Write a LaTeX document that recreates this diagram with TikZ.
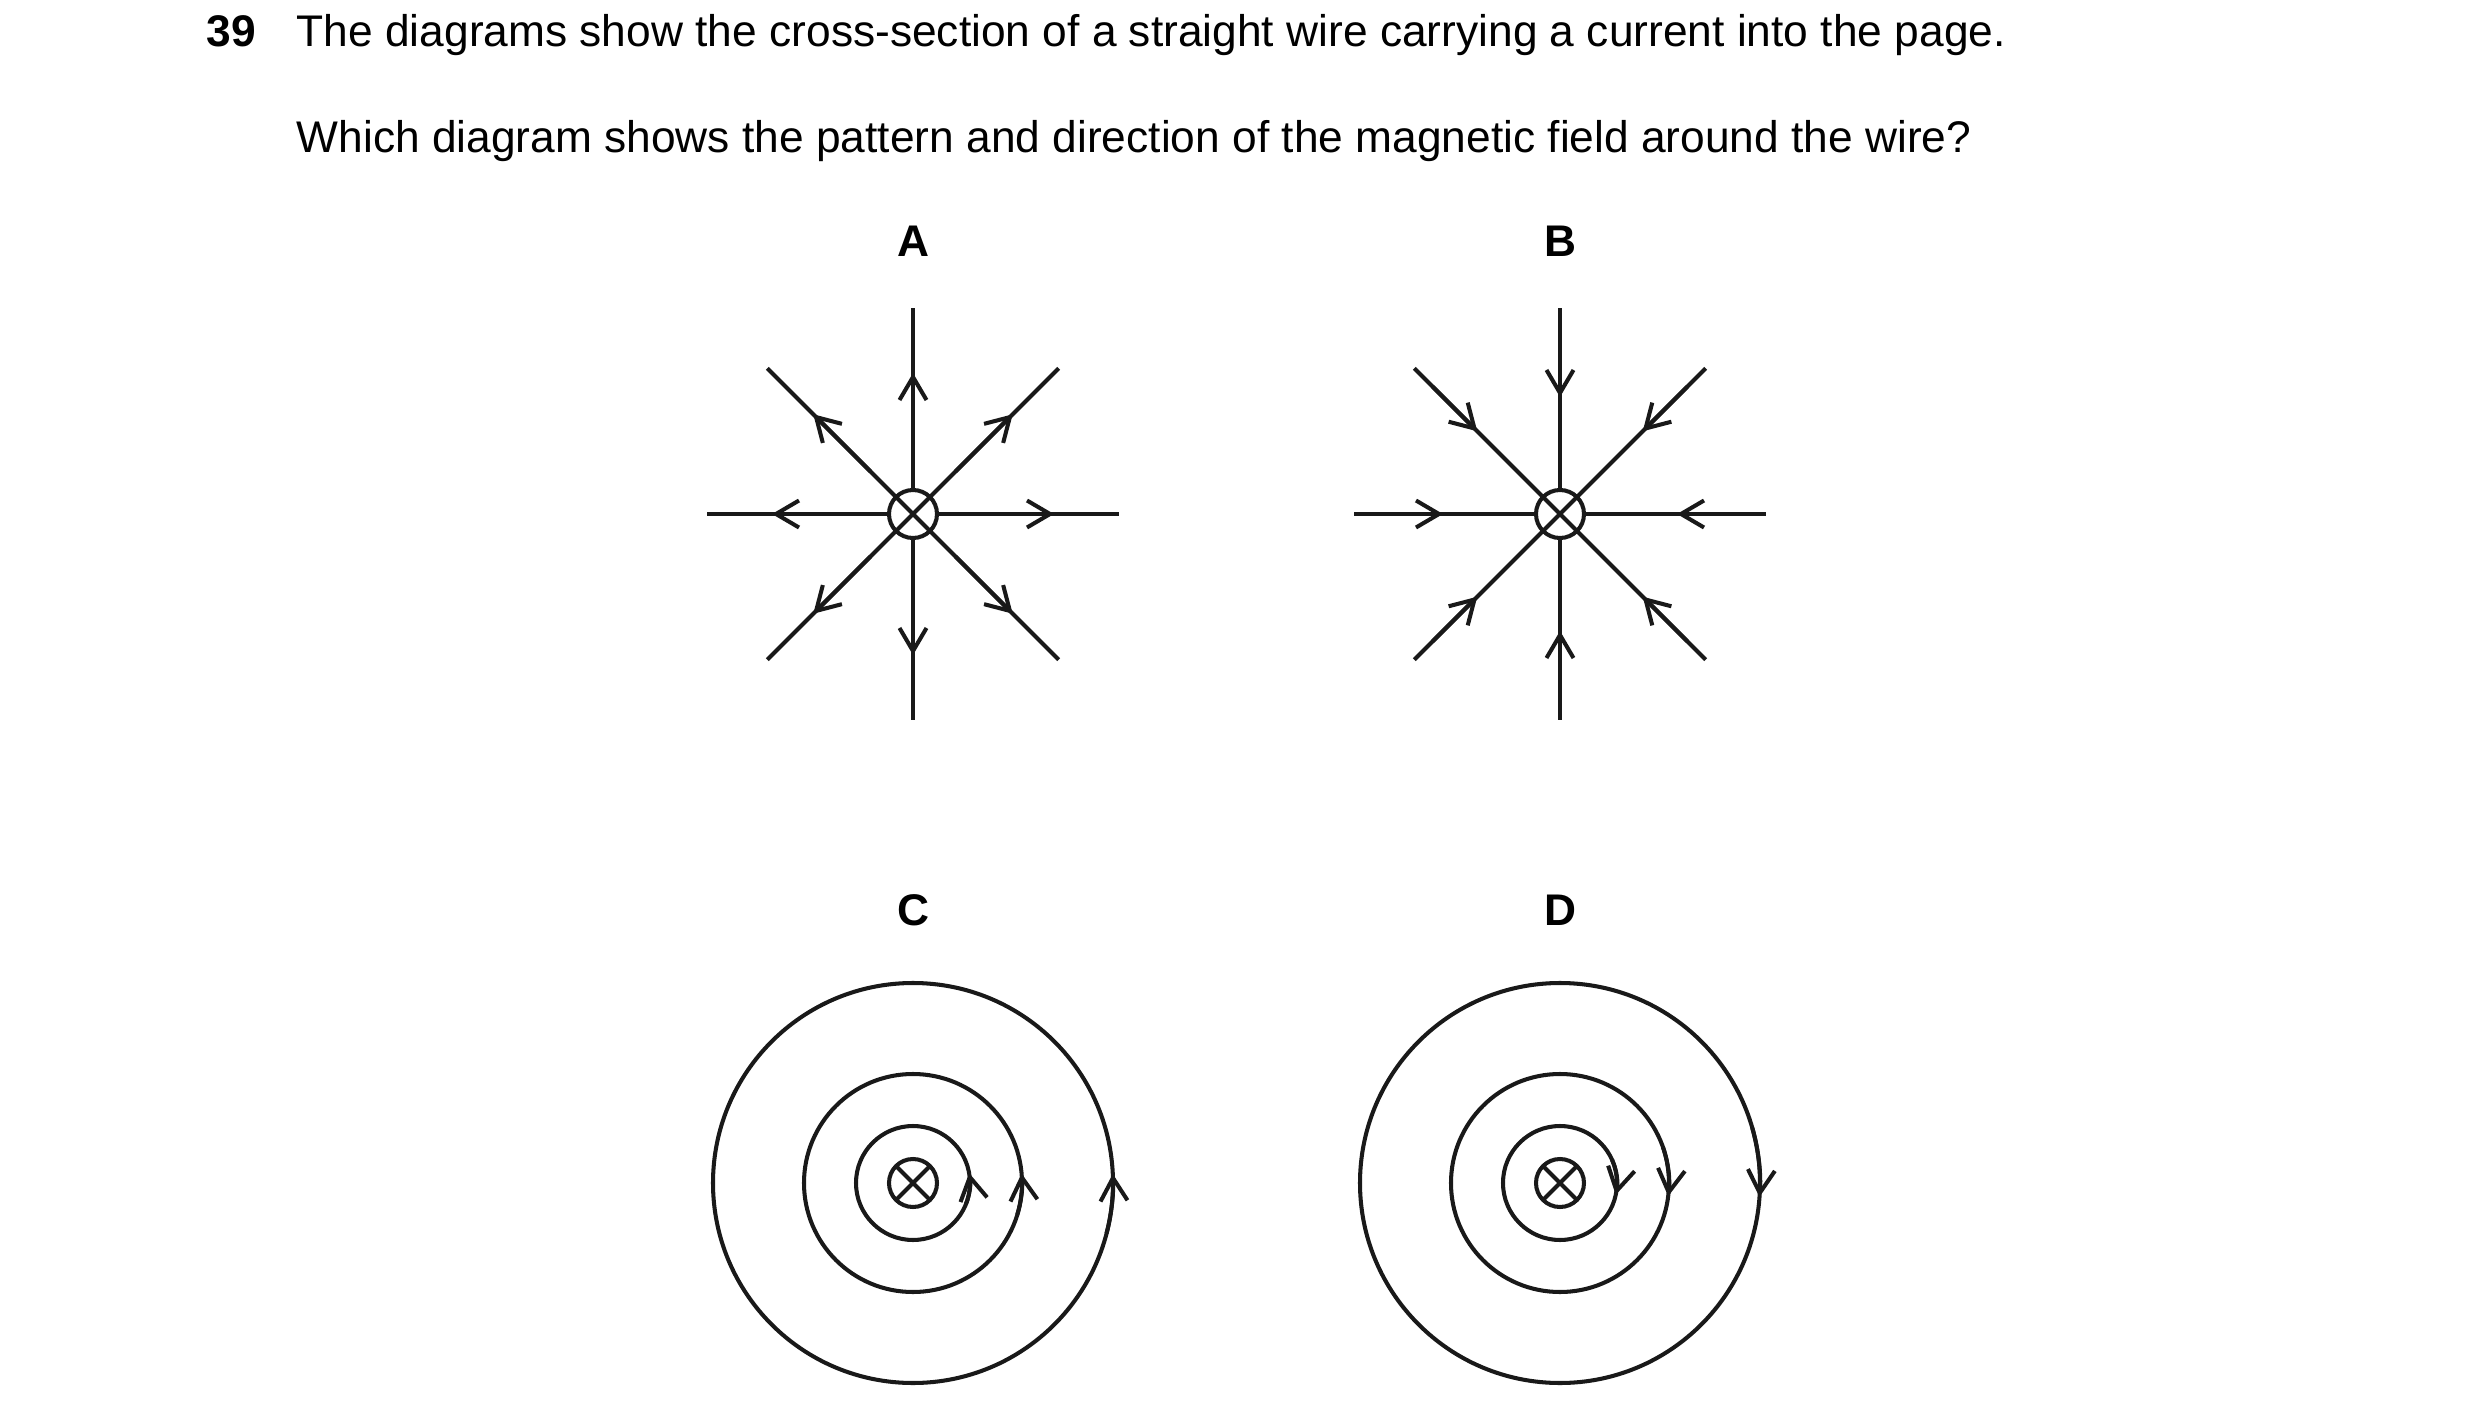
\documentclass[tikz,border=0pt]{standalone}
\usepackage{fontspec}
\setmainfont{Liberation Sans}
\usetikzlibrary{arrows.meta}
\begin{document}
\begin{tikzpicture}[x=0.01cm,y=-0.01cm,
  ln/.style={line width=1.15pt,color=black!90},
  barb/.style={ln,-{Straight Barb[length=0.23cm,width=0.27cm,line width=1.15pt]}},
  txt/.style={anchor=base west,font=\fontsize{12.6}{15}\selectfont,inner sep=0},
  lab/.style={anchor=base,font=\fontsize{12.6}{15}\selectfont\bfseries,inner sep=0}]
\useasboundingbox (0,0) rectangle (2480,1424);
\node[txt,font=\fontsize{12.6}{15}\selectfont\bfseries] (num) at (206,46) {39};
\node[txt] (q1) at (296,46) {The diagrams show the cross-section of a straight wire carrying a current into the page.};
\node[txt] (q2) at (296,152) {Which diagram shows the pattern and direction of the magnetic field around the wire?};
\node[lab] (la) at (913,256) {A};
\node[lab] (lb) at (1560,256) {B};
\node[lab] (lc) at (913,925) {C};
\node[lab] (ld) at (1560,925) {D};
% A
\coordinate (ca) at (913,514);
\draw[ln] (ca) circle (24);
\foreach \a in {45,135,225,315} \draw[ln] (ca) -- +(\a:206);
\foreach \a in {0,90,180,270} \draw[ln] (ca) ++(\a:24) -- +(\a:182);
\foreach \a in {0,45,...,315} \draw[barb] (ca) ++(\a:60) -- +(\a:81);
% B
\coordinate (cb) at (1560,514);
\draw[ln] (cb) circle (24);
\foreach \a in {45,135,225,315} \draw[ln] (cb) -- +(\a:206);
\foreach \a in {0,90,180,270} \draw[ln] (cb) ++(\a:24) -- +(\a:182);
\foreach \a in {0,45,...,315} \draw[barb] (cb) ++(\a:180) -- +(\a:-63);
% C
\coordinate (cc) at (913,1183);
\draw[ln] (cc) circle (24);
\draw[ln] (cc) ++(45:24) -- ++(225:48);
\draw[ln] (cc) ++(135:24) -- ++(315:48);
\foreach \r/\t in {57/10,109/5,200/2.6} {
  \draw[ln] (cc) circle (\r);
  \draw[barb] (cc) ++(\t+12:\r) arc (\t+12:-\t:\r);
}
% D
\coordinate (cd) at (1560,1183);
\draw[ln] (cd) circle (24);
\draw[ln] (cd) ++(45:24) -- ++(225:48);
\draw[ln] (cd) ++(135:24) -- ++(315:48);
\foreach \r/\t in {57/12,109/7,200/4} {
  \draw[ln] (cd) circle (\r);
  \draw[barb] (cd) ++(-\t-12:\r) arc (-\t-12:\t:\r);
}
\end{tikzpicture}
\end{document}
